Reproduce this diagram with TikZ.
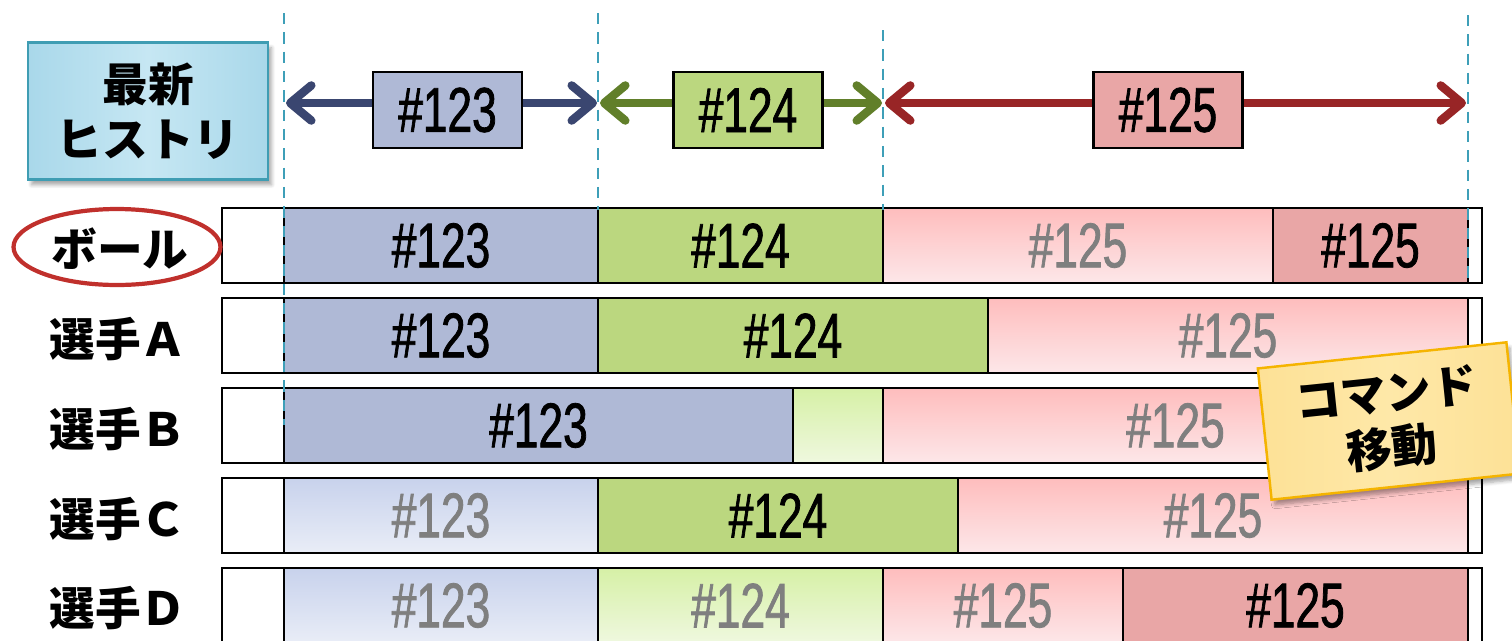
\documentclass[tikz,border=0pt]{standalone}
\usepackage{fontspec}
\setmainfont{Liberation Sans}
\newfontfamily\jpfont{Noto Sans CJK JP}
\newfontfamily\numfont[FakeStretch=0.7,FakeBold=1.2]{Liberation Sans}
\usetikzlibrary{arrows.meta,shapes.geometric,shadows.blur}

\definecolor{dashteal}{HTML}{3E9FB8}
\definecolor{c123}{HTML}{AFB9D6}
\definecolor{c124}{HTML}{BBD77F}
\definecolor{c125}{HTML}{E9A6A6}
\definecolor{b123top}{HTML}{C8D2EC}
\definecolor{b123bot}{HTML}{E9EDF7}
\definecolor{g124top}{HTML}{D6F0A6}
\definecolor{g124bot}{HTML}{EFF8DF}
\definecolor{p125top}{HTML}{FEBDBD}
\definecolor{p125bot}{HTML}{FDE7E9}
\definecolor{navyarr}{HTML}{3A4670}
\definecolor{greenarr}{HTML}{617F2A}
\definecolor{redarr}{HTML}{982526}
\definecolor{txtgray}{HTML}{7F7F7F}
\definecolor{histfill}{HTML}{A9D8EA}
\definecolor{histmid}{HTML}{C6E7F3}
\definecolor{histedge}{HTML}{3F9DB3}
\definecolor{ballred}{HTML}{C0302C}
\definecolor{noteedge}{HTML}{F5B400}
\definecolor{noteleft}{HTML}{FDE196}
\definecolor{notemid}{HTML}{FEE8A8}

\newcommand{\numtext}{\numfont\fontsize{36pt}{40pt}\selectfont}
\newcommand{\jptext}{\jpfont\bfseries\fontsize{26pt}{31pt}\selectfont}
% one coloured block of a timeline row: name, left x, right x, top y, style, label
\newcommand{\rowseg}[6]{%
  \node[#5, minimum width={(#3-#2)*0.02cm}] (#1) at (#2,#4) {#6};}

\begin{document}
\begin{tikzpicture}[x=0.02cm, y=-0.02cm,
  guide/.style={draw=dashteal, line width=1.3pt, dash pattern=on 6.5pt off 4.5pt},
  arrowline/.style={line width=4.8pt,
    {Straight Barb[length=12pt,width=20pt,round]}-{Straight Barb[length=12pt,width=20pt,round]}},
  tagbox/.style={draw=black, line width=1.2pt, minimum width=2.98cm,
    minimum height=1.52cm, inner sep=0pt, font=\numtext},
  rowframe/.style={draw=black, line width=1.2pt, fill=white, outer sep=0pt,
    minimum width=25.2cm, minimum height=1.5cm, anchor=north west},
  segbase/.style={draw=black, line width=1.2pt, outer sep=0pt, inner sep=0pt,
    minimum height=1.5cm, anchor=north west, font=\numtext},
  dark123/.style={segbase, fill=c123},
  dark124/.style={segbase, fill=c124},
  dark125/.style={segbase, fill=c125},
  fade123/.style={segbase, top color=b123top, bottom color=b123bot, text=txtgray},
  fade124/.style={segbase, top color=g124top, bottom color=g124bot, text=txtgray},
  fade125/.style={segbase, top color=p125top, bottom color=p125bot, text=txtgray},
  rowlabel/.style={font=\jptext, inner sep=0pt}
]
\useasboundingbox (0,0) rectangle (1512,640);
\clip (0,0) rectangle (1512,640);

% header box
\node[draw=histedge, line width=1.4pt, left color=histfill, right color=histfill,
  middle color=histmid, minimum width=4.8cm, minimum height=2.74cm,
  align=center, font=\jptext,
  blur shadow={shadow xshift=2pt, shadow yshift=-3pt, shadow opacity=35, shadow blur steps=6}]
  (hist) at (148,111) {最新\\ヒストリ};

% timeline rows
\node[rowframe] (rball) at (222,208) {};
\node[rowframe] (rA) at (222,298) {};
\node[rowframe] (rB) at (222,388) {};
\node[rowframe] (rC) at (222,478) {};
\node[rowframe] (rD) at (222,568) {};

\rowseg{ball1}{284}{598}{208}{dark123}{\#123}
\rowseg{ball2}{598}{883}{208}{dark124}{\#124}
\rowseg{ball3}{883}{1273}{208}{fade125}{\#125}
\rowseg{ball4}{1273}{1468}{208}{dark125}{\#125}

\rowseg{a1}{284}{598}{298}{dark123}{\#123}
\rowseg{a2}{598}{988}{298}{dark124}{\#124}
\rowseg{a3}{988}{1468}{298}{fade125}{\#125}

\rowseg{b1}{284}{793}{388}{dark123}{\#123}
\rowseg{b2}{793}{883}{388}{fade124}{}
\rowseg{b3}{883}{1468}{388}{fade125}{\#125}

\rowseg{c1}{284}{598}{478}{fade123}{\#123}
\rowseg{c2}{598}{958}{478}{dark124}{\#124}
\rowseg{c3}{958}{1468}{478}{fade125}{\#125}

\rowseg{d1}{284}{598}{568}{fade123}{\#123}
\rowseg{d2}{598}{883}{568}{fade124}{\#124}
\rowseg{d3}{883}{1123}{568}{fade125}{\#125}
\rowseg{d4}{1123}{1468}{568}{dark125}{\#125}

% row labels
\node[rowlabel] (lball) at (120,249) {ボール};
\node[draw=ballred, line width=2.4pt, ellipse, minimum width=4.14cm,
  minimum height=1.52cm] (ballring) at (117,247) {};
\node[rowlabel] (lA) at (118,339) {選手Ａ};
\node[rowlabel] (lB) at (118,429) {選手Ｂ};
\node[rowlabel] (lC) at (118,519) {選手Ｃ};
\node[rowlabel] (lD) at (118,608) {選手Ｄ};

% dashed boundaries
\coordinate (g1t) at (284,13);  \coordinate (g1b) at (284,425);
\coordinate (g2t) at (598,13);  \coordinate (g2b) at (598,210);
\coordinate (g3t) at (883,30);  \coordinate (g3b) at (883,210);
\coordinate (g4t) at (1468,15); \coordinate (g4b) at (1468,282);
\draw[guide] (g1t) -- (g1b);
\draw[guide] (g2t) -- (g2b);
\draw[guide] (g3t) -- (g3b);
\draw[guide] (g4t) -- (g4b);

% history ranges
\coordinate (t1) at (286,103);
\coordinate (t2) at (597,103);
\coordinate (t3) at (600,103);
\coordinate (t4) at (882,103);
\coordinate (t5) at (885,103);
\coordinate (t6) at (1466,103);
\draw[arrowline, navyarr] (t1) -- (t2);
\draw[arrowline, greenarr] (t3) -- (t4);
\draw[arrowline, redarr] (t5) -- (t6);
\node[tagbox, fill=c123] (tag123) at (447.5,110) {\#123};
\node[tagbox, fill=c124] (tag124) at (748,110) {\#124};
\node[tagbox, fill=c125] (tag125) at (1168,110) {\#125};

% sticky note
\node[draw=noteedge, line width=1.4pt, left color=noteleft, right color=noteleft,
  middle color=notemid, minimum width=5.0cm, minimum height=2.64cm,
  rotate=6, align=center, font=\jptext,
  blur shadow={shadow xshift=2pt, shadow yshift=-3pt, shadow opacity=35, shadow blur steps=6}]
  (note) at (1389,421) {コマンド\\移動};
\end{tikzpicture}
\end{document}
